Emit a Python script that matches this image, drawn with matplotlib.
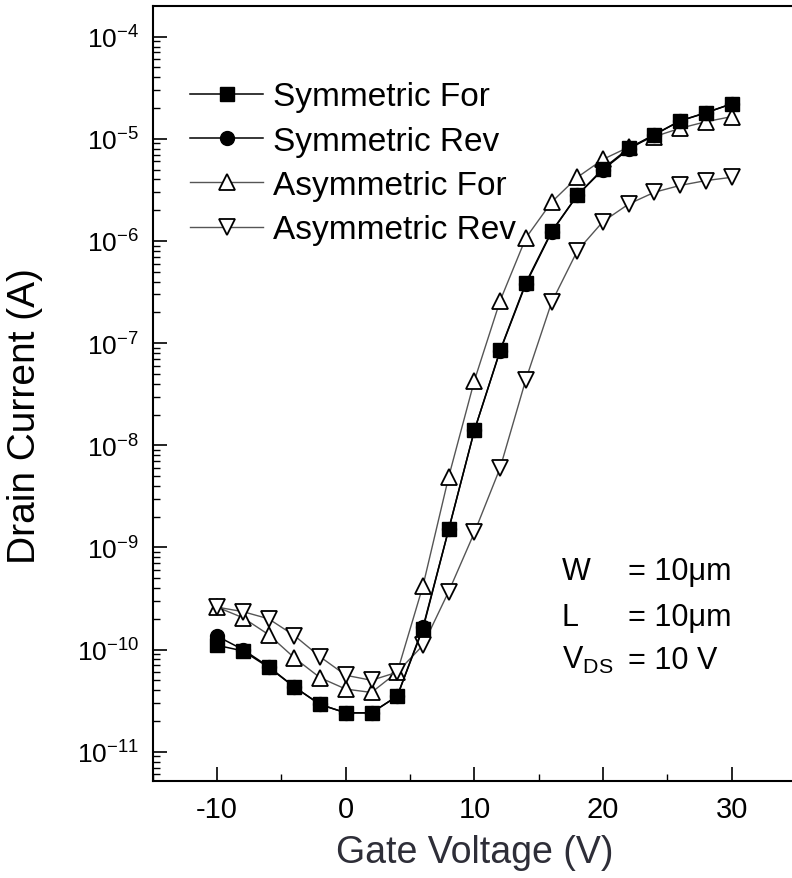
import matplotlib
matplotlib.use("Agg")
import matplotlib.pyplot as plt
from matplotlib.ticker import FixedLocator, MultipleLocator, LogFormatterSciNotation, NullFormatter

# ---- data ----
vg = [-10, -8, -6, -4, -2, 0, 2, 4, 6, 8, 10, 12, 14, 16, 18, 20, 22, 24, 26, 28, 30]

sym_for = [1.1e-10, 9.7e-11, 6.7e-11, 4.3e-11, 2.9e-11, 2.4e-11, 2.4e-11, 3.5e-11,
           1.6e-10, 1.5e-9, 1.4e-8, 8.5e-8, 3.9e-7, 1.24e-6, 2.8e-6, 5.1e-6,
           8.1e-6, 1.1e-5, 1.5e-5, 1.8e-5, 2.2e-5]
sym_rev = [1.35e-10, 1.0e-10, 6.8e-11, 4.3e-11, 2.9e-11, 2.4e-11, 2.4e-11, 3.5e-11,
           1.65e-10, 1.5e-9, 1.4e-8, 8.4e-8, 3.8e-7, 1.22e-6, 2.8e-6, 5.0e-6,
           7.9e-6, 1.1e-5, 1.5e-5, 1.8e-5, 2.2e-5]
asym_for = [2.6e-10, 2.05e-10, 1.4e-10, 8.3e-11, 5.3e-11, 4.1e-11, 3.8e-11, 6.0e-11,
            4.2e-10, 4.9e-9, 4.3e-8, 2.6e-7, 1.07e-6, 2.4e-6, 4.2e-6, 6.3e-6,
            8.3e-6, 1.05e-5, 1.27e-5, 1.47e-5, 1.65e-5]
asym_rev = [2.6e-10, 2.35e-10, 2.0e-10, 1.37e-10, 8.5e-11, 5.6e-11, 5.0e-11, 6.0e-11,
            1.1e-10, 3.7e-10, 1.4e-9, 6.0e-9, 4.4e-8, 2.5e-7, 8.0e-7, 1.55e-6,
            2.3e-6, 3.0e-6, 3.5e-6, 3.9e-6, 4.2e-6]

labels = ["Symmetric For", "Symmetric Rev", "Asymmetric For", "Asymmetric Rev"]
decades = list(range(-11, -3))  # 1e-11 ... 1e-4

plt.rcParams["font.family"] = ["Liberation Sans", "DejaVu Sans"]
plt.rcParams["mathtext.fontset"] = "custom"
plt.rcParams["mathtext.rm"] = "Liberation Sans"
plt.rcParams["axes.unicode_minus"] = False

fig = plt.figure(figsize=(7.92, 8.79), dpi=100)
# right spine is cut off in the original image
ax = fig.add_axes([0.193, 0.110, 0.812, 0.882])

ax.plot(vg, asym_for, color="#555555", lw=1.0, marker="^", ms=11,
        mfc="white", mec="black", mew=1.3, label=labels[2], zorder=2)
ax.plot(vg, asym_rev, color="#555555", lw=1.0, marker="v", ms=11,
        mfc="white", mec="black", mew=1.3, label=labels[3], zorder=2)
ax.plot(vg, sym_rev, color="black", lw=1.1, marker="o", ms=10,
        mfc="black", mec="black", label=labels[1], zorder=3)
ax.plot(vg, sym_for, color="black", lw=1.1, marker="s", ms=9.5,
        mfc="black", mec="black", label=labels[0], zorder=4)

ax.set_yscale("log")
ymin, ymax = 10 ** -11.29, 10 ** -3.70
ax.set_xlim(-15, 35)
ax.set_ylim(ymin, ymax)

ax.xaxis.set_major_locator(MultipleLocator(10))
ax.xaxis.set_minor_locator(MultipleLocator(5))
# only ticks inside the visible range
minor = [m * 10.0 ** k for k in range(-12, -3) for m in range(2, 10)]
minor = [v for v in minor if ymin <= v <= ymax]
ax.yaxis.set_major_locator(FixedLocator([10.0 ** k for k in decades]))
ax.yaxis.set_minor_locator(FixedLocator(minor))
ax.yaxis.set_major_formatter(LogFormatterSciNotation())
ax.yaxis.set_minor_formatter(NullFormatter())

ax.tick_params(which="major", direction="in", length=10, width=1.2, pad=10)
ax.tick_params(which="minor", direction="in", length=5, width=1.0)
ax.tick_params(axis="x", labelsize=21)
ax.tick_params(axis="y", labelsize=19)
ax.tick_params(axis="y", which="both", right=False)
ax.tick_params(axis="x", which="both", top=False)
for s in ax.spines.values():
    s.set_linewidth(1.5)

ax.set_xlabel("Gate Voltage (V)", fontsize=27, color="#2e2e38")
ax.xaxis.set_label_coords(0.5, -0.068)
ax.set_ylabel("Drain Current (A)", fontsize=28, va="center")
ax.yaxis.set_label_coords(-0.199, 0.472)

# legend in the original order
h, l = ax.get_legend_handles_labels()
order = [l.index(t) for t in labels]
ax.legend([h[i] for i in order], labels, loc="upper left",
          bbox_to_anchor=(0.058, 0.903), frameon=False, fontsize=24,
          handlelength=2.2, handletextpad=0.3, labelspacing=0.4,
          borderpad=0, borderaxespad=0)

# device parameters
tx, ex = 0.636, 0.739
ty = [0.271, 0.212, 0.157]
names = ["W", "L", r"V$_{\mathregular{DS}}$"]
vals = ["= 10\u03bcm", "= 10\u03bcm", "= 10 V"]
for name, val, y in zip(names, vals, ty):
    ax.text(tx, y, name, transform=ax.transAxes, fontsize=22, va="center")
    ax.text(ex, y, val, transform=ax.transAxes, fontsize=22, va="center")

fig.savefig("out.png", dpi=100)
